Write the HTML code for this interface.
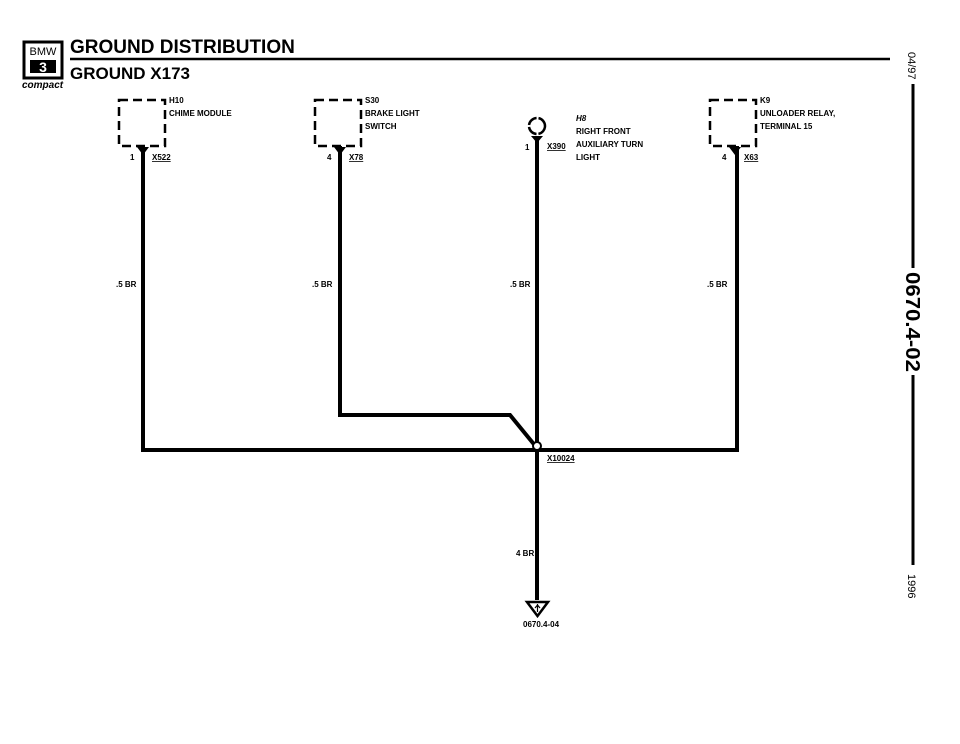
<!DOCTYPE html>
<html><head><style>
body{margin:0;background:#fff;}
svg{display:block;font-family:"Liberation Sans",Arial,sans-serif;}
</style></head><body>
<svg width="960" height="744" viewBox="0 0 960 744">
<rect x="24" y="42" width="38" height="36" fill="none" stroke="#000" stroke-width="3"/>
<text x="43" y="55" font-size="11" text-anchor="middle">BMW</text>
<rect x="30" y="60" width="26" height="13" fill="#000"/>
<text x="43" y="72" font-size="14" font-weight="bold" fill="#fff" text-anchor="middle">3</text>
<text x="22" y="88" font-size="10" font-weight="bold" font-style="italic">compact</text>
<text x="70" y="53" font-size="19" font-weight="bold">GROUND DISTRIBUTION</text>
<line x1="70" y1="59" x2="890" y2="59" stroke="#000" stroke-width="2.5"/>
<text x="70" y="79" font-size="17" font-weight="bold">GROUND X173</text>
<text transform="translate(908,52) rotate(90)" font-size="11">04/97</text>
<line x1="913" y1="84" x2="913" y2="268" stroke="#000" stroke-width="3"/>
<text transform="translate(906,272) rotate(90)" font-size="20" font-weight="bold" textLength="100" lengthAdjust="spacingAndGlyphs">0670.4-02</text>
<line x1="913" y1="375" x2="913" y2="565" stroke="#000" stroke-width="3"/>
<text transform="translate(908,574) rotate(90)" font-size="11">1996</text>
<g fill="none" stroke="#000" stroke-width="2.5" stroke-dasharray="9,5">
<rect x="119" y="100" width="46" height="46"/>
<rect x="315" y="100" width="46" height="46"/>
<rect x="710" y="100" width="46" height="46"/>
</g>
<circle cx="537" cy="126" r="8" fill="none" stroke="#000" stroke-width="2.5" stroke-dasharray="11,2"/>
<g stroke="#000" stroke-width="4" fill="none">
<path d="M143 146 V450 H737 V146"/>
<path d="M340 146 V415 H510 L537 448"/>
<path d="M537 136 V600"/>
</g>
<g fill="#000">
<path d="M137 147 L149 147 L143 155Z"/><path d="M334 147 L346 147 L340 155Z"/>
<path d="M531 136 L543 136 L537 143Z"/><path d="M729 147 L741 147 L735 155Z"/>
</g>
<circle cx="537" cy="446" r="4" fill="#fff" stroke="#000" stroke-width="2"/>
<path d="M527 602 L548 602 L537.5 616Z" fill="#fff" stroke="#000" stroke-width="2.5"/>
<path d="M537.5 604 V612 M535 608 L537.5 605 L540 608" stroke="#000" stroke-width="1.2" fill="none"/>
<g font-size="8" font-weight="bold">
<text x="169" y="103">H10</text><text x="169" y="116">CHIME MODULE</text>
<text x="365" y="103">S30</text><text x="365" y="116">BRAKE LIGHT</text><text x="365" y="129">SWITCH</text>
<text x="760" y="103">K9</text><text x="760" y="116">UNLOADER RELAY,</text><text x="760" y="129">TERMINAL 15</text>
<text x="576" y="121" font-style="italic">H8</text><text x="576" y="134">RIGHT FRONT</text><text x="576" y="147">AUXILIARY TURN</text><text x="576" y="160">LIGHT</text>
<text x="130" y="160">1</text><text x="152" y="160" text-decoration="underline">X522</text>
<text x="327" y="160">4</text><text x="349" y="160" text-decoration="underline">X78</text>
<text x="525" y="150">1</text><text x="547" y="149" text-decoration="underline">X390</text>
<text x="722" y="160">4</text><text x="744" y="160" text-decoration="underline">X63</text>
<text x="116" y="287">.5 BR</text><text x="312" y="287">.5 BR</text>
<text x="510" y="287">.5 BR</text><text x="707" y="287">.5 BR</text>
<text x="547" y="461" text-decoration="underline">X10024</text>
<text x="516" y="556">4 BR</text>
<text x="523" y="627">0670.4-04</text>
</g>
</svg>
</body></html>
